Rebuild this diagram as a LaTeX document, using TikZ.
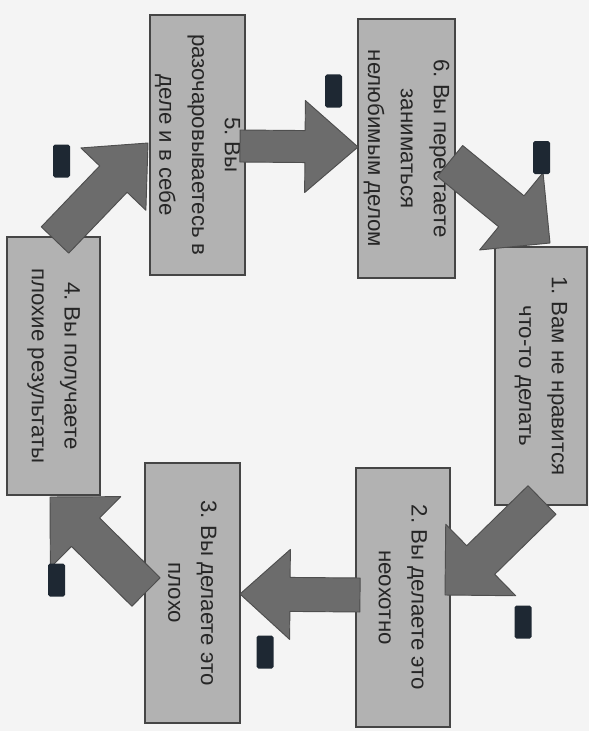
\documentclass[tikz,border=0pt]{standalone}
\usepackage{fontspec}
\setmainfont{Liberation Sans}
\usetikzlibrary{calc}
\frenchspacing
\definecolor{bgc}{HTML}{F4F4F4}
\definecolor{boxfill}{HTML}{B2B2B2}
\definecolor{boxline}{HTML}{454545}
\definecolor{arrfill}{HTML}{6C6C6C}
\definecolor{arrline}{HTML}{4E4E4E}
\definecolor{markc}{HTML}{1E2833}
\definecolor{txt}{HTML}{262626}
\newcommand\pxu{0.03cm}
% #1 tail, #2 tip, #3 shaft half width, #4 head half width, #5 head length
\newcommand\blockarrow[5]{%
  \path ($(#2)!#5!(#1)$) coordinate (hb);
  \draw[blk] ($(#1)!#3!90:(#2)$) -- ($(hb)!#3!-90:(#1)$) -- ($(hb)!#4!-90:(#1)$)
    -- (#2) -- ($(hb)!#4!90:(#1)$) -- ($(hb)!#3!90:(#1)$) -- ($(#1)!#3!-90:(#2)$) -- cycle;}
\tikzset{
  stepbox/.style={draw=boxline, line width=1.6pt, fill=boxfill, rotate=-90,
    inner sep=0pt, align=center, text=txt, font=\fontsize{19}{28}\selectfont},
  blk/.style={fill=arrfill, draw=arrline, line width=0.8pt, line join=round},
  marker/.style={fill=markc, draw=none, rounded corners=1.5pt,
    minimum width=17*\pxu, minimum height=33*\pxu, inner sep=0pt}
}
\begin{document}
\begin{tikzpicture}[x=0.03cm, y=-0.03cm]
\fill[bgc] (0,0) rectangle (589,731);
\useasboundingbox (0,0) rectangle (589,731);
% boxes
\node[stepbox, minimum width=260*\pxu, minimum height=95*\pxu] (b5) at (197.5,145) {5. Вы\\разочаровываетесь в\\деле и в себе};
\node[stepbox, minimum width=259*\pxu, minimum height=97*\pxu] (b6) at (406.5,148.5) {6. Вы перестаете\\заниматься\\нелюбимым делом};
\node[stepbox, minimum width=258*\pxu, minimum height=92*\pxu] (b1) at (541,376) {1. Вам не нравится\\что-то делать};
\node[stepbox, minimum width=259*\pxu, minimum height=94*\pxu] (b2) at (403,597.5) {2. Вы делаете это\\неохотно};
\node[stepbox, minimum width=260*\pxu, minimum height=95*\pxu] (b3) at (192.5,593) {3. Вы делаете это\\плохо};
\node[stepbox, minimum width=258*\pxu, minimum height=93*\pxu] (b4) at (53.5,366) {4. Вы получаете\\плохие результаты};
% arrow end points
\coordinate (t56) at (240,146);  \coordinate (h56) at (358,147);
\coordinate (t61) at (450,161);  \coordinate (h61) at (550,243);
\coordinate (t12) at (542,500);  \coordinate (h12) at (445,595);
\coordinate (t23) at (360,595);  \coordinate (h23) at (240,594);
\coordinate (t34) at (146,592);  \coordinate (h34) at (50,497);
\coordinate (t45) at (55,240);   \coordinate (h45) at (148,143);
\blockarrow{t56}{h56}{0.48cm}{1.38cm}{1.59cm}
\blockarrow{t61}{h61}{0.6cm}{1.5cm}{1.5cm}
\blockarrow{t12}{h12}{0.6cm}{1.5cm}{1.5cm}
\blockarrow{t23}{h23}{0.51cm}{1.35cm}{1.5cm}
\blockarrow{t34}{h34}{0.6cm}{1.5cm}{1.5cm}
\blockarrow{t45}{h45}{0.57cm}{1.35cm}{1.5cm}
% markers
\node[marker] (m1) at (333.5,91) {};
\node[marker] (m2) at (541.5,157.5) {};
\node[marker] (m3) at (523,622) {};
\node[marker] (m4) at (265,652) {};
\node[marker] (m5) at (56.5,580) {};
\node[marker] (m6) at (61.5,161) {};
\end{tikzpicture}
\end{document}
